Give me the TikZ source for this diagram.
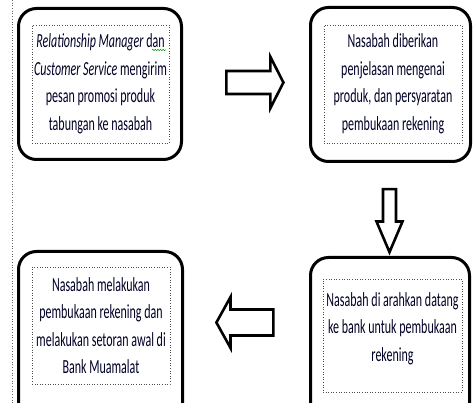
\documentclass[tikz,border=0pt]{standalone}
\usepackage{fontspec}
\setmainfont{Carlito}[FakeStretch=0.6]
\usepackage{tikz}
\usetikzlibrary{shapes.arrows,snakes}
\usetikzlibrary{calc}

\begin{document}
\begin{tikzpicture}[x=1pt, y=-1pt]
        \tikzstyle{frame} = [rectangle, rounded corners=18pt, draw, line width=3pt, inner sep=0pt]
        \tikzstyle{inbox} = [rectangle, draw=black!70, dotted, line width=0.6pt, inner sep=0pt]
        \tikzstyle{txt} = [align=center, inner sep=0pt, text=black!85!blue, font=\fontsize{20}{27.5}\selectfont]
        \tikzstyle{blockarrow} = [single arrow, draw, fill=white, line width=2.6pt]

        \useasboundingbox (0,0) rectangle (474,403);
        \clip (0,0) rectangle (474,403);

        % dotted margin line
        \draw [dotted, black!60, line width=0.7pt] (12.5,0) -- (12.5,403);

        % outer frames
        \foreach \i/\x/\y/\w/\h in {1/100/84/163/151, 2/390.5/84.5/160/154, 3/390/343.75/159/172.5, 4/100.5/340.75/164/178.5}
        {
                \node[frame, minimum width=\w, minimum height=\h] (f\i) at (\x,\y) {};
        }

        % dotted inner boxes
        \foreach \i/\x/\y/\w/\h in {1/100.5/84/137/118, 2/393/84/138/118, 3/392.5/335.5/139/113, 4/101/325.5/138/117}
        {
                \node[inbox, minimum width=\w, minimum height=\h] (i\i) at (\x,\y) {};
        }

        % texts
        \node[txt] (t1) at (i1) {\textit{Relationship Manager} dan\\\textit{Customer Service} mengirim\\pesan promosi produk\\tabungan ke nasabah};
        \node[txt] (t2) at (i2) {Nasabah diberikan\\penjelasan mengenai\\produk, dan persyaratan\\pembukaan rekening};
        \node[txt] (t3) at ($(i3) + (0,-7)$) {Nasabah di arahkan datang\\ke bank untuk pembukaan\\rekening};
        \node[txt] (t4) at (i4) {Nasabah melakukan\\pembukaan rekening dan\\melakukan setoran awal di\\Bank Muamalat};

        % spell check mark
        \draw [green!60!black, snake=snake, segment amplitude=0.7pt, segment length=2.6pt, line width=0.5pt] (152,50) -- (166,50);

        % block arrows
        \node[blockarrow, inner sep=10.2pt, single arrow head extend=14pt, single arrow tip angle=126, minimum height=57pt] (a12) at (252,82.5) {};
        \node[blockarrow, inner sep=5.2pt, single arrow head extend=6.5pt, single arrow tip angle=46, minimum height=63pt, shape border rotate=270] (a23) at (389.5,213) {};
        \node[blockarrow, inner sep=11.7pt, single arrow head extend=12.5pt, single arrow tip angle=122, minimum height=57pt, shape border rotate=180] (a34) at (248.5,322.5) {};
\end{tikzpicture}
\end{document}
